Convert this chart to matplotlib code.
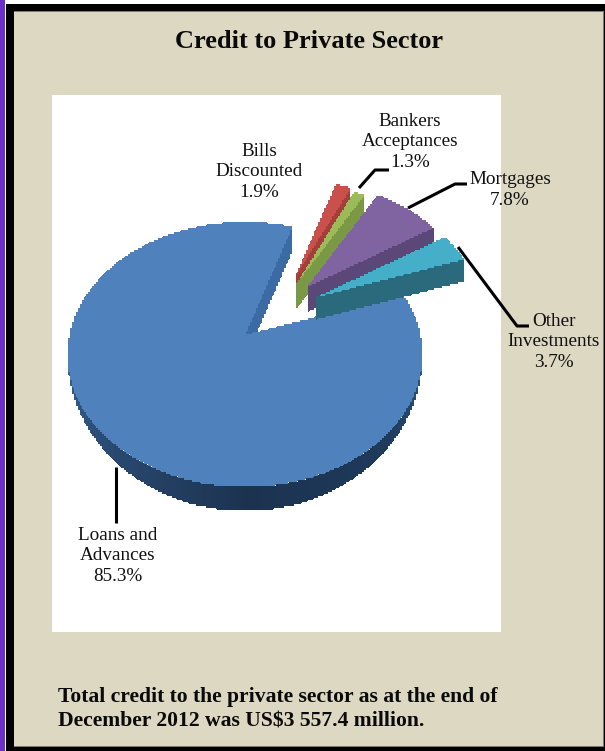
import numpy as np
import matplotlib
matplotlib.use('Agg')
import matplotlib.pyplot as plt
from matplotlib.patches import Polygon, Rectangle

W, H = 605, 751

title = 'Credit to Private Sector'
footnote = ['Total credit to the private sector as at the end of',
            'December 2012 was US$3 557.4 million.']
categories = ['Loans and\nAdvances', 'Bills\nDiscounted', 'Bankers\nAcceptances',
              'Mortgages', 'Other\nInvestments']
shares = [85.3, 1.9, 1.3, 7.8, 3.7]

top_colors = ['#4f81bd', '#c9504b', '#9bbb59', '#8064a2', '#45aec8']
wall_colors = ['#3c6ba3', '#a23f3b', '#7b9846', '#5c4878', '#2a6a7c']

# where each slice's point sits on the page, and how far it is scaled
apex = [(245, 335), (295, 277), (297, 283), (307, 287), (317, 297)]
scale = [1.0, 0.86, 0.88, 0.92, 0.93]
depth = [24, 26, 25, 25, 22]

RX, RY, PERSP = 175.5, 129.6, 0.147
STEP = 2.0  # size of the stair-step on the slice edges


def rim(t, i):
    # perspective-projected point on the disc, t in degrees
    t = np.radians(t)
    k = scale[i] / (1 + PERSP * np.sin(t))
    return apex[i][0] + RX * np.cos(t) * k, apex[i][1] - RY * np.sin(t) * k


def arc(t0, t1, i):
    ts = np.linspace(t0, t1, max(int(abs(t1 - t0) * 3), 2))
    return np.column_stack(rim(ts, i))


def rough(pts):
    # resample a closed outline and snap it to a coarse grid
    pts = np.asarray(pts, dtype=float)
    out = []
    for p, q in zip(pts, np.roll(pts, -1, axis=0)):
        n = max(int(np.hypot(*(q - p))), 1)
        out.append(p + (q - p) * np.arange(n)[:, None] / n)
    return np.round(np.vstack(out) / STEP) * STEP


fig = plt.figure(figsize=(W / 100, H / 100), dpi=100)
ax = fig.add_axes([0, 0, 1, 1])
ax.set_xlim(0, W)
ax.set_ylim(H, 0)
ax.axis('off')

# page frame
ax.add_patch(Rectangle((0, 0), W, H, fc='#ffffff', ec='none'))
ax.add_patch(Rectangle((0, 0), 5, H, fc='#6a30c8', ec='none'))
ax.add_patch(Rectangle((6, 4), W - 6, H - 4, fc='#000000', ec='none'))
ax.add_patch(Rectangle((14, 11), W - 15, 736, fc='#7d7a6c', ec='none'))
ax.add_patch(Rectangle((14, 12), W - 16, 734, fc='#dcd8c2', ec='none'))
ax.add_patch(Rectangle((52, 95), 449, 537, fc='#ffffff', ec='none'))


def face(pts, color, z):
    ax.add_patch(Polygon(rough(pts), closed=True, fc=color, ec='none',
                         antialiased=False, zorder=z))


wall_cmap = matplotlib.colors.LinearSegmentedColormap.from_list(
    'wall', ['#3a6a9e', '#2a4a72', '#1c3350', '#1f3a5c', '#33608f'])

spans = [360 * s / 100 for s in shares]

# loans slice runs the long way round from the top of the gap
t0 = 72.0
t1 = t0 + spans[0]
z = 3
ax0, ay0 = apex[0]
d = depth[0]

# cut face seen through the gap
edge = arc(t0, t0, 0)[0]
face([(ax0, ay0), edge, (edge[0], edge[1] + d), (ax0, ay0 + d)], wall_colors[0], z)

# outer wall in short shaded pieces, thinning toward the sides
for t in np.arange(180, 360, 2.0):
    a = arc(t, t + 2.4, 0)
    ts = np.linspace(t, t + 2.4, len(a))
    drop = d * np.clip(-np.sin(np.radians(ts)), 0, 1) ** 1.3
    low = a + np.column_stack([np.zeros(len(a)), drop])
    face(np.vstack([a, low[::-1]]), wall_cmap((t - 180) / 180), z)

face(np.vstack([[(ax0, ay0)], arc(t0, t1, 0)]), top_colors[0], z + 1)

# remaining slices step clockwise from the loans edge
t = t0
for i in range(1, len(shares)):
    a0, a1 = t, t - spans[i]
    t = a1
    x0, y0 = apex[i]
    d = depth[i]
    z += 2
    end = arc(a1, a1, i)[0]
    rim_pts = arc(a0, a1, i)
    face(np.vstack([rim_pts, (rim_pts + [0, d])[::-1]]), wall_colors[i], z)
    face([(x0, y0), end, (end[0], end[1] + d), (x0, y0 + d)], wall_colors[i], z)
    face(np.vstack([[(x0, y0)], rim_pts]), top_colors[i], z + 1)

# leader lines
leaders = [
    [(116, 467), (116, 523)],
    [(359, 188), (375, 170), (389, 170)],
    [(408, 208), (455, 184), (467, 184)],
    [(458, 247), (517, 326), (529, 326)],
]
for pts in leaders:
    xs, ys = zip(*pts)
    ax.plot(xs, ys, color='black', lw=2.2, solid_capstyle='butt', zorder=20)

serif = ['Liberation Serif', 'DejaVu Serif']
label_pos = [(118, 556), (259, 172), (410, 142), (510, 190), (554, 342)]
for name, share, (x, y) in zip(categories, shares, label_pos):
    ax.text(x, y, f'{name}\n{share:.1f}%', ha='center', va='center', family=serif,
            fontsize=13.8, color='#111111', linespacing=1.25, zorder=21)

ax.text(309, 42, title, ha='center', va='center', family=serif, fontsize=19,
        fontweight='bold', color='#0a0a0a')
ax.text(58, 697, footnote[0], ha='left', va='center', family=serif, fontsize=15.6,
        fontweight='bold', color='#0a0a0a')
ax.text(58, 722, footnote[1], ha='left', va='center', family=serif, fontsize=15.6,
        fontweight='bold', color='#0a0a0a')

fig.savefig('out.png', dpi=100)
